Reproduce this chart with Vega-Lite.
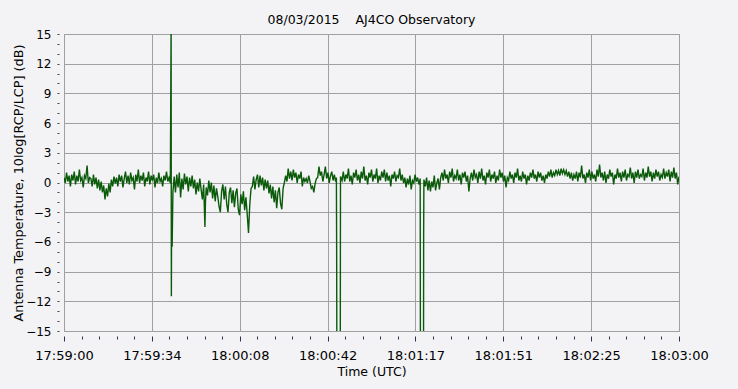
{
  "$schema": "https://vega.github.io/schema/vega-lite/v6.json",
  "autosize": {"type": "none"},
  "padding": {"left": 64, "top": 34, "right": 59, "bottom": 58},
  "width": 615,
  "height": 297,
  "background": "#f3f3f6",
  "config": {
    "view": {"stroke": "#8f8f8f", "strokeWidth": 1, "fill": "#f3f3f6"},
    "font": "DejaVu Sans"
  },
  "title": {"text": "08/03/2015\u00a0\u00a0\u00a0\u00a0AJ4CO Observatory", "font": "DejaVu Sans", "fontSize": 12.5, "fontWeight": "normal", "color": "#000000", "offset": 2, "anchor": "middle"},
  "data": {"values": [
    {"t":0,"v":0.5},{"t":0.5,"v":-0.05},{"t":1,"v":1.0},{"t":1.5,"v":0.1},{"t":2,"v":0.7},{"t":2.5,"v":-0.4},{"t":3,"v":0.8},{"t":3.5,"v":0.2},{"t":4,"v":1.1},{"t":4.5,"v":-0.2},
    {"t":5,"v":0.7},{"t":5.5,"v":0.1},{"t":6,"v":1.3},{"t":6.5,"v":0.2},{"t":7,"v":0.5},{"t":7.5,"v":-0.5},{"t":8,"v":0.7},{"t":8.5,"v":0.4},{"t":9,"v":1.7},{"t":9.5,"v":-0.05},
    {"t":10,"v":0.5},{"t":10.5,"v":0.4},{"t":11,"v":-0.4},{"t":11.5,"v":0.8},{"t":12,"v":-0.2},{"t":12.5,"v":0.5},{"t":13,"v":-0.6},{"t":13.5,"v":0.3},{"t":14,"v":-0.8},{"t":14.5,"v":0.1},
    {"t":15,"v":-1.0},{"t":15.5,"v":-0.3},{"t":16,"v":-1.7},{"t":16.5,"v":-0.6},{"t":17,"v":-1.4},{"t":17.5,"v":-0.1},{"t":18,"v":-1.0},{"t":18.5,"v":0.3},{"t":19,"v":-0.4},{"t":19.5,"v":0.6},
    {"t":20,"v":-0.1},{"t":20.5,"v":0.5},{"t":21,"v":-0.4},{"t":21.5,"v":0.8},{"t":22,"v":0.1},{"t":22.5,"v":0.7},{"t":23,"v":-0.5},{"t":23.5,"v":0.4},{"t":24,"v":1.1},{"t":24.5,"v":-0.05},
    {"t":25,"v":0.7},{"t":25.5,"v":-0.2},{"t":26,"v":1.0},{"t":26.5,"v":0.2},{"t":27,"v":0.5},{"t":27.5,"v":-0.7},{"t":28,"v":0.8},{"t":28.5,"v":0.1},{"t":29,"v":1.3},{"t":29.5,"v":-0.05},
    {"t":30,"v":0.7},{"t":30.5,"v":0.2},{"t":31,"v":1.0},{"t":31.5,"v":-0.4},{"t":32,"v":0.5},{"t":32.5,"v":0.1},{"t":33,"v":1.1},{"t":33.5,"v":-0.2},{"t":34,"v":0.7},{"t":34.5,"v":0.2},
    {"t":35,"v":0.8},{"t":35.5,"v":-0.5},{"t":36,"v":0.5},{"t":36.5,"v":-0.05},{"t":37,"v":1.0},{"t":37.5,"v":0.1},{"t":38,"v":0.4},{"t":38.5,"v":-0.4},{"t":39,"v":0.7},{"t":39.5,"v":0.2},
    {"t":40,"v":1.1},{"t":40.5,"v":0.1},{"t":41,"v":0.5},{"t":41.5,"v":-0.05},
    {"t":41.8,"v":16},{"t":41.9,"v":-11.5},{"t":42.0,"v":-3.0},{"t":42.2,"v":-6.5},{"t":42.5,"v":-1.0},
    {"t":43,"v":0.6},{"t":43.5,"v":-1.0},{"t":44,"v":0.8},{"t":44.5,"v":-0.5},{"t":45,"v":1.0},{"t":45.5,"v":-1.5},{"t":46,"v":0.4},{"t":46.5,"v":-0.7},{"t":47,"v":0.9},{"t":47.5,"v":-0.2},
    {"t":48,"v":0.6},{"t":48.5,"v":-0.9},{"t":49,"v":0.5},{"t":49.5,"v":-0.4},{"t":50,"v":0.7},{"t":50.5,"v":-0.6},{"t":51,"v":0.3},{"t":51.5,"v":-1.2},{"t":52,"v":0.0},{"t":52.5,"v":-0.9},
    {"t":53,"v":0.4},{"t":53.5,"v":-0.7},{"t":54,"v":-1.7},{"t":54.5,"v":-0.2},{"t":55,"v":-4.5},{"t":55.2,"v":-2.0},{"t":55.5,"v":-0.5},{"t":56,"v":-1.3},{"t":56.5,"v":0.2},{"t":57,"v":-1.0},
    {"t":57.5,"v":0.0},{"t":58,"v":-1.6},{"t":58.5,"v":-0.3},{"t":59,"v":-1.9},{"t":59.5,"v":-0.6},{"t":60,"v":-1.4},{"t":60.5,"v":-2.4},{"t":61,"v":-3.0},{"t":61.5,"v":-0.9},{"t":62,"v":-0.2},
    {"t":62.5,"v":-1.7},{"t":63,"v":-0.4},{"t":63.5,"v":-2.2},{"t":64,"v":-3.0},{"t":64.5,"v":-1.0},{"t":65,"v":-0.5},{"t":65.5,"v":-2.1},{"t":66,"v":-0.8},{"t":66.5,"v":-2.5},{"t":67,"v":-1.1},
    {"t":67.5,"v":-0.6},{"t":68,"v":-2.7},{"t":68.5,"v":-3.3},{"t":69,"v":-1.2},{"t":69.5,"v":-2.2},{"t":70,"v":-0.9},{"t":70.5,"v":-2.8},{"t":71,"v":-1.5},{"t":71.5,"v":-3.2},{"t":72,"v":-5.1},
    {"t":72.5,"v":-2.2},{"t":73,"v":-0.6},{"t":73.5,"v":-0.4},{"t":74,"v":0.6},{"t":74.5,"v":-0.7},{"t":75,"v":0.3},{"t":75.5,"v":0.8},{"t":76,"v":-0.5},{"t":76.5,"v":0.7},{"t":77,"v":-0.3},
    {"t":77.5,"v":0.5},{"t":78,"v":-0.8},{"t":78.5,"v":0.3},{"t":79,"v":-0.6},{"t":79.5,"v":0.2},{"t":80,"v":-1.1},{"t":80.5,"v":-0.2},{"t":81,"v":-1.6},{"t":81.5,"v":-0.4},{"t":82,"v":-2.0},
    {"t":82.5,"v":-0.8},{"t":83,"v":-2.6},{"t":83.5,"v":-1.0},{"t":84,"v":-0.5},{"t":84.5,"v":-2.1},{"t":85,"v":-2.7},{"t":85.5,"v":-0.6},{"t":86,"v":0.0},{"t":86.5,"v":0.7},{"t":87,"v":0.1},
    {"t":87.5,"v":1.4},{"t":88,"v":0.4},{"t":88.5,"v":1.1},{"t":89,"v":0.2},{"t":89.5,"v":1.3},{"t":90,"v":0.5},{"t":90.5,"v":1.0},{"t":91,"v":-0.05},{"t":91.5,"v":0.8},{"t":92,"v":0.4},
    {"t":92.5,"v":1.1},{"t":93,"v":-0.4},{"t":93.5,"v":0.5},{"t":94,"v":0.1},{"t":94.5,"v":0.4},{"t":95,"v":-0.05},{"t":95.5,"v":0.7},{"t":96,"v":0.1},{"t":96.5,"v":-0.6},{"t":97,"v":-0.4},
    {"t":97.5,"v":-1.0},{"t":98,"v":-0.1},{"t":98.5,"v":0.4},{"t":99,"v":0.5},{"t":99.5,"v":1.6},{"t":100,"v":0.7},{"t":100.5,"v":1.1},{"t":101,"v":0.1},{"t":101.5,"v":0.8},{"t":102,"v":1.6},
    {"t":102.5,"v":0.4},{"t":103,"v":1.0},{"t":103.5,"v":-0.05},{"t":104,"v":0.7},{"t":104.5,"v":1.1},{"t":105,"v":0.2},{"t":105.5,"v":0.8},{"t":106,"v":0.1},
    {"t":106.3,"v":0.5},{"t":106.4,"v":-6.8},{"t":106.5,"v":-20},{"t":107.8,"v":-20},{"t":107.9,"v":0.6},
    {"t":108.5,"v":0.2},{"t":109,"v":1.1},{"t":109.5,"v":0.1},{"t":110,"v":0.8},{"t":110.5,"v":0.4},{"t":111,"v":1.4},{"t":111.5,"v":0.1},{"t":112,"v":0.7},{"t":112.5,"v":-0.2},{"t":113,"v":1.0},
    {"t":113.5,"v":0.5},{"t":114,"v":1.3},{"t":114.5,"v":0.2},{"t":115,"v":0.8},{"t":115.5,"v":-0.05},{"t":116,"v":1.1},{"t":116.5,"v":0.4},{"t":117,"v":1.6},{"t":117.5,"v":0.2},{"t":118,"v":0.7},
    {"t":118.5,"v":-0.2},{"t":119,"v":1.0},{"t":119.5,"v":0.5},{"t":120,"v":1.3},{"t":120.5,"v":0.1},{"t":121,"v":0.8},{"t":121.5,"v":0.4},{"t":122,"v":1.4},{"t":122.5,"v":-0.05},{"t":123,"v":0.7},
    {"t":123.5,"v":0.2},{"t":124,"v":1.1},{"t":124.5,"v":0.5},{"t":125,"v":1.3},{"t":125.5,"v":0.1},{"t":126,"v":1.0},{"t":126.5,"v":0.2},{"t":127,"v":0.7},{"t":127.5,"v":-0.4},{"t":128,"v":0.8},
    {"t":128.5,"v":0.4},{"t":129,"v":1.1},{"t":129.5,"v":0.1},{"t":130,"v":0.7},{"t":130.5,"v":0.5},{"t":131,"v":1.4},{"t":131.5,"v":0.2},{"t":132,"v":0.8},{"t":132.5,"v":-0.05},{"t":133,"v":0.5},
    {"t":133.5,"v":-0.5},{"t":134,"v":0.4},{"t":134.5,"v":-0.2},{"t":135,"v":0.7},{"t":135.5,"v":-0.7},{"t":136,"v":0.2},{"t":136.5,"v":-0.05},{"t":137,"v":0.8},{"t":137.5,"v":0.1},{"t":138,"v":0.5},
    {"t":138.5,"v":-0.2},{"t":139,"v":0.4},
    {"t":139.1,"v":-20},{"t":140.3,"v":-20},{"t":140.35,"v":-5.4},{"t":140.45,"v":0.3},
    {"t":141,"v":-0.4},{"t":141.5,"v":0.5},{"t":142,"v":-0.8},{"t":142.5,"v":0.2},{"t":143,"v":-0.9},{"t":143.5,"v":0.1},{"t":144,"v":-0.5},{"t":144.5,"v":0.7},{"t":145,"v":-0.8},{"t":145.5,"v":-0.05},
    {"t":146,"v":0.4},{"t":146.5,"v":-0.7},{"t":147,"v":0.5},{"t":147.5,"v":1.0},{"t":148,"v":0.2},{"t":148.5,"v":1.3},{"t":149,"v":0.4},{"t":149.5,"v":0.8},{"t":150,"v":-0.05},{"t":150.5,"v":1.1},
    {"t":151,"v":0.5},{"t":151.5,"v":1.4},{"t":152,"v":0.1},{"t":152.5,"v":0.7},{"t":153,"v":0.4},{"t":153.5,"v":1.3},{"t":154,"v":0.2},{"t":154.5,"v":0.8},{"t":155,"v":-0.2},{"t":155.5,"v":1.0},
    {"t":156,"v":0.5},{"t":156.5,"v":1.1},{"t":157,"v":0.1},{"t":157.5,"v":0.7},{"t":158,"v":-0.9},{"t":158.5,"v":0.4},{"t":159,"v":1.0},{"t":159.5,"v":0.2},{"t":160,"v":1.3},{"t":160.5,"v":0.5},
    {"t":161,"v":0.8},{"t":161.5,"v":-0.05},{"t":162,"v":1.1},{"t":162.5,"v":0.4},{"t":163,"v":1.4},{"t":163.5,"v":0.2},{"t":164,"v":0.7},{"t":164.5,"v":-0.2},{"t":165,"v":1.0},{"t":165.5,"v":0.5},
    {"t":166,"v":1.3},{"t":166.5,"v":0.1},{"t":167,"v":0.8},{"t":167.5,"v":0.4},{"t":168,"v":1.1},{"t":168.5,"v":-0.05},{"t":169,"v":0.7},{"t":169.5,"v":0.2},{"t":170,"v":1.3},{"t":170.5,"v":0.5},
    {"t":171,"v":1.0},{"t":171.5,"v":0.1},{"t":172,"v":0.7},{"t":172.5,"v":-0.5},{"t":173,"v":0.5},{"t":173.5,"v":0.2},{"t":174,"v":1.1},{"t":174.5,"v":0.4},{"t":175,"v":0.8},{"t":175.5,"v":-0.05},
    {"t":176,"v":1.0},{"t":176.5,"v":0.5},{"t":177,"v":1.4},{"t":177.5,"v":0.2},{"t":178,"v":0.7},{"t":178.5,"v":0.1},{"t":179,"v":1.1},{"t":179.5,"v":0.4},{"t":180,"v":0.8},{"t":180.5,"v":-0.2},
    {"t":181,"v":0.7},{"t":181.5,"v":0.2},{"t":182,"v":1.0},{"t":182.5,"v":0.5},{"t":183,"v":1.3},{"t":183.5,"v":0.4},{"t":184,"v":0.8},{"t":184.5,"v":0.1},{"t":185,"v":1.1},{"t":185.5,"v":0.5},
    {"t":186,"v":1.0},{"t":186.5,"v":0.2},{"t":187,"v":0.7},{"t":187.5,"v":-0.05},{"t":188,"v":0.8},{"t":188.5,"v":0.4},{"t":189,"v":1.1},{"t":189.5,"v":0.6},{"t":190,"v":1.3},{"t":190.5,"v":0.5},
    {"t":191,"v":1.0},{"t":191.5,"v":0.7},{"t":192,"v":1.3},{"t":192.5,"v":0.8},{"t":193,"v":1.2},{"t":193.5,"v":0.7},{"t":194,"v":1.4},{"t":194.5,"v":0.9},{"t":195,"v":1.3},{"t":195.5,"v":0.8},
    {"t":196,"v":1.2},{"t":196.5,"v":0.6},{"t":197,"v":1.1},{"t":197.5,"v":0.4},{"t":198,"v":1.0},{"t":198.5,"v":0.2},{"t":199,"v":0.8},{"t":199.5,"v":0.4},{"t":200,"v":1.1},{"t":200.5,"v":0.1},
    {"t":201,"v":1.0},{"t":201.5,"v":0.5},{"t":202,"v":1.7},{"t":202.5,"v":0.4},{"t":203,"v":0.8},{"t":203.5,"v":-0.05},{"t":204,"v":1.0},{"t":204.5,"v":0.5},{"t":205,"v":1.3},{"t":205.5,"v":0.2},
    {"t":206,"v":1.1},{"t":206.5,"v":0.4},{"t":207,"v":0.8},{"t":207.5,"v":0.1},{"t":208,"v":1.3},{"t":208.5,"v":0.6},{"t":209,"v":1.8},{"t":209.5,"v":0.5},{"t":210,"v":1.0},{"t":210.5,"v":0.2},
    {"t":211,"v":1.1},{"t":211.5,"v":-0.05},{"t":212,"v":0.8},{"t":212.5,"v":0.4},{"t":213,"v":1.3},{"t":213.5,"v":0.6},{"t":214,"v":1.0},{"t":214.5,"v":-0.2},{"t":215,"v":0.8},{"t":215.5,"v":0.4},
    {"t":216,"v":1.4},{"t":216.5,"v":0.5},{"t":217,"v":1.0},{"t":217.5,"v":0.1},{"t":218,"v":1.1},{"t":218.5,"v":0.5},{"t":219,"v":1.3},{"t":219.5,"v":0.2},{"t":220,"v":0.8},{"t":220.5,"v":0.6},
    {"t":221,"v":1.5},{"t":221.5,"v":0.4},{"t":222,"v":1.0},{"t":222.5,"v":-0.05},{"t":223,"v":1.1},{"t":223.5,"v":0.5},{"t":224,"v":1.3},{"t":224.5,"v":0.4},{"t":225,"v":0.8},{"t":225.5,"v":0.6},
    {"t":226,"v":1.4},{"t":226.5,"v":0.2},{"t":227,"v":1.0},{"t":227.5,"v":0.5},{"t":228,"v":1.6},{"t":228.5,"v":0.6},{"t":229,"v":1.1},{"t":229.5,"v":0.1},{"t":230,"v":1.0},{"t":230.5,"v":0.4},
    {"t":231,"v":1.3},{"t":231.5,"v":0.6},{"t":232,"v":1.1},{"t":232.5,"v":0.2},{"t":233,"v":0.8},{"t":233.5,"v":0.5},{"t":234,"v":1.4},{"t":234.5,"v":0.4},{"t":235,"v":1.0},{"t":235.5,"v":0.6},
    {"t":236,"v":1.3},{"t":236.5,"v":0.1},{"t":237,"v":1.1},{"t":237.5,"v":0.5},{"t":238,"v":1.5},{"t":238.5,"v":0.4},{"t":239,"v":1.0},{"t":239.5,"v":-0.2},{"t":240,"v":0.6}
  ]},
  "mark": {"type": "line", "color": "#0a5a0a", "strokeWidth": 1.4, "clip": true, "interpolate": "linear"},
  "encoding": {
    "x": {
      "field": "t", "type": "quantitative",
      "scale": {"domain": [0, 240], "nice": false, "zero": false},
      "axis": {
        "values": [0, 6.857142857, 13.714285714, 20.571428571, 27.428571429, 34.285714286, 41.142857143, 48, 54.857142857, 61.714285714, 68.571428571, 75.428571429, 82.285714286, 89.142857143, 96, 102.857142857, 109.714285714, 116.571428571, 123.428571429, 130.285714286, 137.142857143, 144, 150.857142857, 157.714285714, 164.571428571, 171.428571429, 178.285714286, 185.142857143, 192, 198.857142857, 205.714285714, 212.571428571, 219.428571429, 226.285714286, 233.142857143, 240],
        "labelExpr": "abs(datum.value*7/240 - round(datum.value*7/240)) < 0.01 ? timeFormat(datetime(2015,7,3,17,59,floor(datum.value+0.01)),'%H:%M:%S') : ''",
        "offset": 5,
        "domain": false,
        "tickColor": "#2b3350",
        "tickSize": {"condition": {"test": "abs(datum.value*7/240 - round(datum.value*7/240)) < 0.01", "value": 5}, "value": 3},
        "grid": true,
        "gridColor": "#a0a0a0",
        "gridOpacity": {"condition": {"test": "abs(datum.value*7/240 - round(datum.value*7/240)) < 0.01", "value": 1}, "value": 0},
        "labelFont": "DejaVu Sans", "labelFontSize": 13, "labelColor": "#000000",
        "labelPadding": 8.5, "labelFlush": false, "labelOverlap": false, "labelBound": false,
        "title": "Time (UTC)", "titleFont": "DejaVu Sans", "titleFontSize": 12.5, "titleFontWeight": "normal", "titleColor": "#000000", "titlePadding": 3
      }
    },
    "y": {
      "field": "v", "type": "quantitative",
      "scale": {"domain": [-15, 15], "nice": false, "zero": false},
      "axis": {
        "values": [-15,-14,-13,-12,-11,-10,-9,-8,-7,-6,-5,-4,-3,-2,-1,0,1,2,3,4,5,6,7,8,9,10,11,12,13,14,15],
        "format": "d",
        "labelExpr": "datum.value % 3 == 0 ? datum.label : ''",
        "offset": 5,
        "domain": false,
        "tickColor": "#444444",
        "tickSize": 2,
        "grid": true,
        "gridColor": "#a0a0a0",
        "gridOpacity": {"condition": {"test": "datum.value % 3 == 0", "value": 1}, "value": 0},
        "labelFont": "DejaVu Sans", "labelFontSize": 12, "labelColor": "#000000",
        "labelPadding": 6, "labelFlush": false, "labelOverlap": false, "labelBound": false,
        "title": "Antenna Temperature, 10log[RCP/LCP] (dB)", "titleFont": "DejaVu Sans", "titleFontSize": 12.8, "titleFontWeight": "normal", "titleColor": "#000000", "titlePadding": 0
      }
    }
  }
}
